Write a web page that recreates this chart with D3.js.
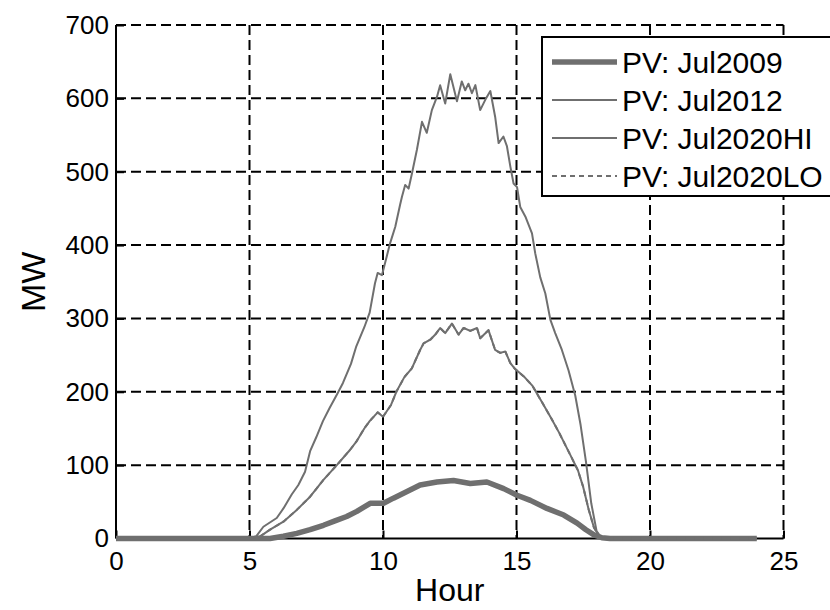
<!DOCTYPE html>
<html>
<head>
<meta charset="utf-8">
<script src="https://cdn.jsdelivr.net/npm/d3@7"></script>
<style>
  body { margin: 0; background: #fff; }
  svg { display: block; font-family: "Liberation Sans", Arial, sans-serif; }
</style>
</head>
<body>
<svg width="830" height="610"></svg>
<script>
// [hour, MW] pairs
const jul2009 = [
  [0, 0], [5, 0], [5.77, 0], [6.27, 3], [6.77, 7], [7.27, 12], [7.77, 18], [8.2, 24],
  [8.64, 30], [9.02, 37], [9.52, 48], [10.02, 48], [10.39, 55], [10.9, 64], [11.39, 73],
  [12.02, 77], [12.64, 79], [13.27, 75], [13.89, 77], [14.52, 68], [15.02, 59], [15.52, 52],
  [16.14, 41], [16.77, 32], [17.27, 21], [17.6, 12], [17.9, 5], [18.2, 1], [18.5, 0], [24, 0]
];
const jul2012 = [
  [0, 0], [5, 0], [5.4, 3], [5.77, 12], [6.27, 23], [6.77, 39], [7.27, 57], [7.77, 80],
  [8.27, 100], [8.77, 121], [9.0, 132], [9.3, 150], [9.5, 160], [9.8, 172], [10.0, 166],
  [10.3, 182], [10.5, 200], [10.8, 220], [11.08, 232], [11.39, 257], [11.52, 266],
  [11.77, 271], [11.96, 278], [12.14, 287], [12.33, 280], [12.58, 293], [12.83, 278],
  [13.02, 287], [13.27, 283], [13.52, 287], [13.64, 273], [13.95, 284], [14.2, 257],
  [14.39, 253], [14.58, 255], [14.77, 239], [14.95, 231], [15.3, 220], [15.6, 208],
  [16.0, 183], [16.3, 164], [16.6, 144], [17.0, 115], [17.3, 93], [17.5, 70], [17.7, 40],
  [17.9, 15], [18.1, 3], [18.4, 0], [24, 0]
];
const jul2020hi = [
  [0, 0], [5, 0], [5.25, 3], [5.52, 16], [6.02, 28], [6.27, 41], [6.58, 60], [6.83, 73],
  [7.08, 91], [7.27, 119], [7.5, 138], [7.75, 160], [8.0, 178], [8.3, 198], [8.5, 212],
  [8.8, 238], [9.0, 262], [9.3, 288], [9.5, 308], [9.7, 348], [9.8, 362], [9.96, 359],
  [10.27, 403], [10.46, 425], [10.64, 455], [10.71, 466], [10.83, 482], [10.96, 477],
  [11.08, 497], [11.27, 530], [11.46, 568], [11.64, 553], [11.83, 584], [12.02, 602],
  [12.14, 618], [12.33, 593], [12.52, 633], [12.77, 596], [12.95, 623], [13.08, 611],
  [13.2, 620], [13.33, 607], [13.46, 618], [13.64, 584], [13.83, 598], [14.02, 610],
  [14.2, 575], [14.33, 539], [14.51, 548], [14.64, 535], [14.77, 507], [14.89, 484],
  [15.02, 479], [15.14, 452], [15.33, 439], [15.58, 416], [15.7, 389], [15.89, 356],
  [16.08, 334], [16.27, 298], [16.45, 280], [16.7, 257], [16.95, 229], [17.2, 195],
  [17.4, 155], [17.6, 105], [17.8, 48], [18.0, 10], [18.2, 0], [24, 0]
];
// LO scenario is hidden under the 2012 curve
const jul2020lo = jul2012;

const seriesNames = ["PV: Jul2009", "PV: Jul2012", "PV: Jul2020HI", "PV: Jul2020LO"];
const xTicks = [0, 5, 10, 15, 20, 25];
const yTicks = [0, 100, 200, 300, 400, 500, 600, 700];

const series = [
  { name: seriesNames[0], data: jul2009, width: 5.5, dash: null },
  { name: seriesNames[1], data: jul2012, width: 2, dash: null },
  { name: seriesNames[2], data: jul2020hi, width: 2, dash: null },
  { name: seriesNames[3], data: jul2020lo, width: 2, dash: "5,4" }
];

const plot = { left: 116, right: 783.5, top: 25, bottom: 538.5 };
const font = "Liberation Sans, Arial, sans-serif";
const svg = d3.select("svg");

const x = d3.scaleLinear().domain([0, 25]).range([plot.left, plot.right]);
const y = d3.scaleLinear().domain([0, 700]).range([plot.bottom, plot.top]);

// Dashed grid
const grid = svg.append("g")
  .attr("stroke", "#000")
  .attr("stroke-width", 2)
  .attr("stroke-dasharray", "10,5");
grid.selectAll("line.v")
  .data(xTicks.filter((d) => d > 0))
  .join("line")
  .attr("class", "v")
  .attr("x1", (d) => x(d)).attr("x2", (d) => x(d))
  .attr("y1", plot.top).attr("y2", plot.bottom);
grid.selectAll("line.h")
  .data(yTicks.filter((d) => d > 0))
  .join("line")
  .attr("class", "h")
  .attr("y1", (d) => y(d)).attr("y2", (d) => y(d))
  .attr("x1", plot.left).attr("x2", plot.right);

// Axes (left and bottom only)
svg.append("g")
  .attr("transform", `translate(0,${plot.bottom})`)
  .call(d3.axisBottom(x).tickValues(xTicks).tickSize(-8).tickPadding(13))
  .call((g) => g.select(".domain").attr("stroke-width", 2).attr("d", `M${plot.left},0H${plot.right}`))
  .call((g) => g.selectAll(".tick line").attr("stroke-width", 2))
  .call((g) => g.selectAll("text").attr("font-size", 26).attr("fill", "#000").attr("font-family", font));

svg.append("g")
  .attr("transform", `translate(${plot.left},0)`)
  .call(d3.axisLeft(y).tickValues(yTicks).tickSize(-8).tickPadding(7))
  .call((g) => g.select(".domain").attr("stroke-width", 2).attr("d", `M0,${plot.top}V${plot.bottom}`))
  .call((g) => g.selectAll(".tick line").attr("stroke-width", 2))
  .call((g) => g.selectAll("text").attr("font-size", 26).attr("fill", "#000").attr("font-family", font));

// Lines
const line = d3.line().x((d) => x(d[0])).y((d) => y(d[1]));
svg.append("g")
  .attr("fill", "none")
  .attr("stroke", "#6f6f6f")
  .selectAll("path")
  .data(series)
  .join("path")
  .attr("d", (d) => line(d.data))
  .attr("stroke-width", (d) => d.width)
  .attr("stroke-dasharray", (d) => d.dash)
  .attr("stroke-linejoin", "round");

// Axis labels
svg.append("text")
  .attr("x", (plot.left + plot.right) / 2)
  .attr("y", 601)
  .attr("text-anchor", "middle")
  .attr("font-size", 32)
  .text("Hour");

svg.append("text")
  .attr("transform", `translate(45,${(plot.top + plot.bottom) / 2}) rotate(-90)`)
  .attr("text-anchor", "middle")
  .attr("font-size", 34)
  .text("MW");

// Legend
const legend = svg.append("g").attr("transform", "translate(542,37)");
legend.append("rect")
  .attr("width", 300).attr("height", 159)
  .attr("fill", "#fff").attr("stroke", "#000").attr("stroke-width", 2);
const item = legend.selectAll("g.item")
  .data(series)
  .join("g")
  .attr("class", "item")
  .attr("transform", (d, i) => `translate(0,${25 + i * 38})`);
item.append("line")
  .attr("x1", 10).attr("x2", 75)
  .attr("stroke", "#6f6f6f")
  .attr("stroke-width", (d) => d.width)
  .attr("stroke-dasharray", (d) => d.dash);
item.append("text")
  .attr("x", 80).attr("dy", "0.36em")
  .attr("font-size", 30)
  .text((d) => d.name);
</script>
</body>
</html>
